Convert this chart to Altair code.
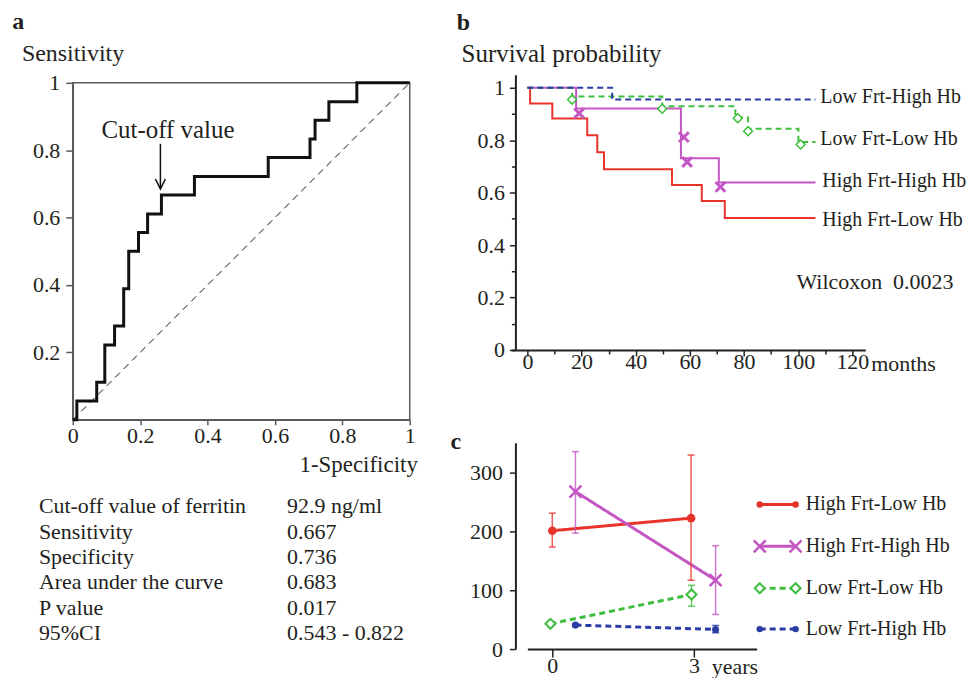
import altair as alt
import pandas as pd

FONT = "Liberation Serif"
INK = "#231f20"
GREY = "#5a5a5a"

# ---------------- panel a : ROC curve ----------------
roc_fpr = [0.0, 0.012, 0.071, 0.095, 0.124, 0.151, 0.166, 0.195, 0.222, 0.263,
           0.361, 0.580, 0.704, 0.719, 0.760, 0.843, 1.0]
roc_tpr = [0.0, 0.056, 0.111, 0.222, 0.278, 0.389, 0.500, 0.556, 0.611, 0.667,
           0.722, 0.778, 0.833, 0.889, 0.944, 1.0, 1.0]
chance = [0.0, 1.0]
stat_names = ["Cut-off value of ferritin", "Sensitivity", "Specificity",
              "Area under the curve", "P value", "95%CI"]
stat_values = ["92.9 ng/ml", "0.667", "0.736", "0.683", "0.017", "0.543 - 0.822"]
cut_x = 0.260
cut_arrow = [0.819, 0.685]

# ---------------- panel b : survival ----------------
groups = ["High Frt-Low Hb", "High Frt-High Hb", "Low Frt-Low Hb", "Low Frt-High Hb"]
colors = ["#e8332b", "#c456c4", "#3dbf3d", "#2b3ba6"]

km_t_hflh = [0, 1.0, 9.2, 22.1, 25.8, 28.3, 53.4, 64.4, 72.9, 106.4]
km_s_hflh = [1.0, 0.940, 0.883, 0.819, 0.754, 0.689, 0.629, 0.568, 0.503, 0.503]
km_t_hfhh = [0, 18.0, 56.7, 70.7, 106.4]
km_s_hfhh = [1.0, 0.921, 0.731, 0.639, 0.639]
km_t_lflh = [0, 16.5, 49.8, 76.8, 81.5, 100.1, 106.4]
km_s_lflh = [1.0, 0.967, 0.930, 0.887, 0.844, 0.793, 0.793]
km_t_lfhh = [0, 31.3, 106.4]
km_s_lfhh = [1.0, 0.955, 0.955]

cens_t_hfhh = [19.1, 57.8, 59.0, 71.3]
cens_s_hfhh = [0.903, 0.812, 0.717, 0.622]
cens_t_lflh = [16.5, 49.8, 77.7, 81.5, 100.9]
cens_s_lflh = [0.955, 0.920, 0.884, 0.834, 0.784]

km_label_x = [108.9, 108.9, 108.2, 108.2]
km_label_y = [0.494, 0.646, 0.806, 0.966]

# ---------------- panel c : ferritin means ----------------
fe_year_hflh = [0.0, 2.94]
fe_mean_hflh = [200.7, 222.0]
fe_lo_hflh = [173.0, 116.7]
fe_hi_hflh = [230.5, 329.0]

fe_year_hfhh = [0.49, 3.46]
fe_mean_hfhh = [267.0, 117.0]
fe_lo_hfhh = [196.7, 58.7]
fe_hi_hfhh = [334.8, 175.3]

fe_year_lflh = [-0.04, 2.95]
fe_mean_lflh = [42.8, 92.5]
fe_lo_lflh = [42.8, 72.7]
fe_hi_lflh = [42.8, 108.0]

fe_year_lfhh = [0.49, 3.46]
fe_mean_lfhh = [40.6, 33.3]
fe_lo_lfhh = [39.0, 27.6]
fe_hi_lfhh = [42.0, 40.0]

legend_x = [4.395, 5.155]
legend_text_x = 5.37
legend_y = [245.2, 174.2, 103.1, 33.8]


def txt(xs, ys, ss, X, Y, **kw):
    df = pd.DataFrame({"x": xs, "y": ys, "t": ss})
    base = dict(font=FONT, color=INK, fontSize=22, align="left", baseline="middle")
    base.update(kw)
    return alt.Chart(df).mark_text(**base).encode(x=X, y=Y, text="t:N")


def axis(**kw):
    base = dict(title=None, grid=False, labelFont=FONT, labelFontSize=22, labelColor=INK,
                labelFlush=False, labelOverlap=False, domainColor=INK, tickColor=INK,
                domainWidth=2, tickWidth=1.5)
    base.update(kw)
    return alt.Axis(**base)


# ================= panel a =================
XA = alt.X("x:Q", scale=alt.Scale(domain=[0, 1], nice=False, zero=False),
           axis=axis(values=[0, 0.2, 0.4, 0.6, 0.8, 1.0], format="~g", domainColor=GREY,
                     tickColor=GREY, domainWidth=1.5, tickSize=5, labelPadding=1))
YA = alt.Y("y:Q", scale=alt.Scale(domain=[0, 1], nice=False, zero=False),
           axis=axis(values=[0.2, 0.4, 0.6, 0.8, 1.0], format="~g", domainColor=GREY,
                     tickColor=GREY, domainWidth=1.5, tickSize=7, labelPadding=6))

roc_line = alt.Chart(pd.DataFrame({"x": roc_fpr, "y": roc_tpr})).mark_line(
    interpolate="step-after", color="#111111", strokeWidth=3).encode(x=XA, y=YA)
diag = alt.Chart(pd.DataFrame({"x": chance, "y": chance})).mark_line(
    color="#111111", strokeWidth=1, strokeDash=[7, 5]).encode(x=XA, y=YA)
arrow = alt.Chart(pd.DataFrame({"x": [cut_x], "y": [cut_arrow[0]], "y2": [cut_arrow[1]]})).mark_rule(
    color="#111111", strokeWidth=1.5).encode(x=XA, y=YA, y2="y2:Q")
head = alt.Chart(pd.DataFrame({"x": [cut_x], "y": [cut_arrow[1]]})).mark_point(
    shape="M-1,-2L0,0L1,-2", size=100, color="#111111", strokeWidth=1.5, filled=False,
    opacity=1).encode(x=XA, y=YA)

roc = alt.layer(
    diag, roc_line, arrow, head,
    txt([0.2825], [0.8356], ["Cut-off value"], XA, YA, fontSize=25, align="center", baseline="alphabetic"),
    txt([1.024], [-0.133], ["1-Specificity"], XA, YA, fontSize=23, align="right"),
    txt([-0.151], [1.0637], ["Sensitivity"], XA, YA, fontSize=24, baseline="alphabetic"),
    txt([-0.180], [1.1585], ["a"], XA, YA, fontSize=24, fontWeight="bold", baseline="alphabetic"),
).properties(width=338, height=338, view=alt.ViewBackground(stroke=GREY, strokeWidth=1.5))

# table under panel a
XT = alt.X("x:Q", scale=alt.Scale(domain=[0, 1], nice=False, zero=False), axis=None)
YT = alt.Y("y:Q", scale=alt.Scale(domain=[-2.52, 5.63], nice=False, zero=False, reverse=True), axis=None)
rows = list(range(len(stat_names)))
table = alt.layer(
    txt([-0.1006] * len(rows), rows, stat_names, XT, YT),
    txt([0.636] * len(rows), rows, stat_values, XT, YT),
).properties(width=338, height=207)

# ================= panel b =================
XB = alt.X("x:Q", scale=alt.Scale(domain=[-5.9, 124.8], range=[-4, 351], nice=False, zero=False),
           axis=axis(values=list(range(0, 121, 10)),
                     labelExpr="datum.value % 20 === 0 ? datum.label : ''",
                     tickSize={"condition": {"test": "datum.value % 20 === 0", "value": 6}, "value": 4},
                     labelPadding=-4))
YB = alt.Y("y:Q", scale=alt.Scale(domain=[0, 1.0494], range=[268, -8], nice=False, zero=False),
           axis=axis(values=[0, 0.1, 0.2, 0.3, 0.4, 0.5, 0.6, 0.7, 0.8, 0.9, 1.0], format="~g",
                     labelExpr="round(datum.value * 10) % 2 === 0 ? datum.label : ''",
                     tickSize={"condition": {"test": "round(datum.value * 10) % 2 === 0", "value": 6}, "value": 4},
                     labelPadding=5))

km_parts = []
for g, ts, ss in [(groups[0], km_t_hflh, km_s_hflh), (groups[1], km_t_hfhh, km_s_hfhh),
                  (groups[2], km_t_lflh, km_s_lflh), (groups[3], km_t_lfhh, km_s_lfhh)]:
    km_parts.append(pd.DataFrame({"x": ts, "y": ss, "g": g}))
km_df = pd.concat(km_parts, ignore_index=True)

km_lines = alt.Chart(km_df).mark_line(interpolate="step-after", strokeWidth=2).encode(
    x=XB, y=YB,
    color=alt.Color("g:N", scale=alt.Scale(domain=groups, range=colors), legend=None),
    strokeDash=alt.StrokeDash("g:N", scale=alt.Scale(domain=groups, range=[[1, 0], [1, 0], [6, 4], [6, 4]]),
                              legend=None),
)
cens_x = alt.Chart(pd.DataFrame({"x": cens_t_hfhh, "y": cens_s_hfhh})).mark_point(
    shape="M-1,-1L1,1M-1,1L1,-1", size=95, strokeWidth=3, color=colors[1], filled=False,
    opacity=1).encode(x=XB, y=YB)
cens_d = alt.Chart(pd.DataFrame({"x": cens_t_lflh, "y": cens_s_lflh})).mark_point(
    shape="diamond", size=81, strokeWidth=1.5, stroke=colors[2], fill="white", filled=True,
    opacity=1, fillOpacity=1).encode(x=XB, y=YB)

surv = alt.layer(
    km_lines, cens_x, cens_d,
    txt(km_label_x, km_label_y, groups, XB, YB, fontSize=20),
    txt([99.4], [0.2586], ["Wilcoxon\u00a0 0.0023"], XB, YB, fontSize=22),
    txt([127.0], [-0.0787], ["months"], XB, YB, fontSize=22, baseline="alphabetic"),
    txt([-24.3], [1.100], ["Survival probability"], XB, YB, fontSize=25, baseline="alphabetic"),
    txt([-26.1], [1.2205], ["b"], XB, YB, fontSize=24, fontWeight="bold", baseline="alphabetic"),
).properties(width=351, height=268)

# ================= panel c =================
XC = alt.X("x:Q", scale=alt.Scale(domain=[-0.528, 4.33], range=[12, 242], nice=False, zero=False),
           axis=axis(values=[0, 3], format="d", tickSize=8, labelPadding=-1))
YC = alt.Y("y:Q", scale=alt.Scale(domain=[0, 350], nice=False, zero=False),
           axis=axis(values=list(range(0, 351, 50)),
                     labelExpr="datum.value % 100 === 0 ? datum.label : ''",
                     tickSize={"condition": {"test": "datum.value % 100 === 0", "value": 6}, "value": 4},
                     labelPadding=7))

fe_sets = [
    (groups[0], fe_year_hflh, fe_mean_hflh, fe_lo_hflh, fe_hi_hflh),
    (groups[1], fe_year_hfhh, fe_mean_hfhh, fe_lo_hfhh, fe_hi_hfhh),
    (groups[2], fe_year_lflh, fe_mean_lflh, fe_lo_lflh, fe_hi_lflh),
    (groups[3], fe_year_lfhh, fe_mean_lfhh, fe_lo_lfhh, fe_hi_lfhh),
]
fe_df = pd.concat([pd.DataFrame({"x": xs, "y": ms, "lo": lo, "hi": hi, "g": g})
                   for g, xs, ms, lo, hi in fe_sets], ignore_index=True)

col_c = alt.Color("g:N", scale=alt.Scale(domain=groups, range=colors), legend=None)
fe_lines = alt.Chart(fe_df).mark_line().encode(
    x=XC, y=YC, color=col_c,
    strokeDash=alt.StrokeDash("g:N", scale=alt.Scale(domain=groups, range=[[1, 0], [1, 0], [7, 4], [7, 4]]),
                              legend=None),
    strokeWidth=alt.StrokeWidth("g:N", scale=alt.Scale(domain=groups, range=[3, 3, 2.5, 2.5]), legend=None),
)
err = alt.Chart(fe_df).mark_rule(strokeWidth=1.5, opacity=0.8).encode(
    x=XC, y=alt.Y("lo:Q", scale=alt.Scale(domain=[0, 350], nice=False, zero=False)), y2="hi:Q", color=col_c)
cap_lo = alt.Chart(fe_df).mark_tick(orient="horizontal", size=7, thickness=1.5, opacity=0.8).encode(
    x=XC, y=alt.Y("lo:Q", scale=alt.Scale(domain=[0, 350], nice=False, zero=False)), color=col_c)
cap_hi = alt.Chart(fe_df).mark_tick(orient="horizontal", size=7, thickness=1.5, opacity=0.8).encode(
    x=XC, y=alt.Y("hi:Q", scale=alt.Scale(domain=[0, 350], nice=False, zero=False)), color=col_c)

leg_df = pd.DataFrame({"x": [legend_x[0]] * 4, "x2": [legend_x[1]] * 4, "y": legend_y, "g": groups})
leg_lines = alt.Chart(leg_df).mark_rule().encode(
    x=XC, x2="x2:Q", y=YC, color=col_c,
    strokeDash=alt.StrokeDash("g:N", scale=alt.Scale(domain=groups, range=[[1, 0], [1, 0], [2, 3], [2, 2]]),
                              legend=None),
    strokeWidth=alt.StrokeWidth("g:N", scale=alt.Scale(domain=groups, range=[2, 2.5, 2.5, 2.5]), legend=None),
)

point_layers = []
for i, (g, xs, ms, lo, hi) in enumerate(fe_sets):
    pts = pd.DataFrame({
        "x": list(xs) + legend_x,
        "y": list(ms) + [legend_y[i]] * 2,
        "sz": [1, 1, 0, 0],
    })
    if i == 0:
        mk = alt.Chart(pts).mark_point(shape="circle", filled=True, color=colors[0], opacity=1)
        sizes = [42, 75]
    elif i == 1:
        mk = alt.Chart(pts).mark_point(shape="M-1,-1L1,1M-1,1L1,-1", filled=False, color=colors[1],
                                       strokeWidth=2.5, opacity=1)
        sizes = [144, 144]
    elif i == 2:
        mk = alt.Chart(pts).mark_point(shape="diamond", filled=True, fill="white", stroke=colors[2],
                                       strokeWidth=2, opacity=1, fillOpacity=1)
        sizes = [100, 100]
    else:
        mk = alt.Chart(pts).mark_point(shape="circle", filled=True, color=colors[3], opacity=1)
        sizes = [42, 50]
    point_layers.append(mk.encode(
        x=XC, y=YC,
        size=alt.Size("sz:O", scale=alt.Scale(domain=[0, 1], range=sizes), legend=None)))

means = alt.layer(
    fe_lines, err, cap_lo, cap_hi, leg_lines, *point_layers,
    txt([legend_text_x] * 4, legend_y, groups, XC, YC, fontSize=20),
    txt([3.38], [-30.5], ["years"], XC, YC, fontSize=22),
    txt([-2.155], [339.9], ["c"], XC, YC, fontSize=24, fontWeight="bold", baseline="alphabetic"),
).resolve_scale(size="independent").properties(width=242, height=207)

chart = alt.concat(
    roc, surv, table, means, columns=2, spacing={"row": 23, "column": 106}, bounds="flush"
).properties(
    padding={"left": 3, "top": 0, "right": 0, "bottom": 0}
).configure(font=FONT).configure_view(stroke="transparent")

chart.save("out.html", embed_options={"renderer": "svg", "actions": False})
